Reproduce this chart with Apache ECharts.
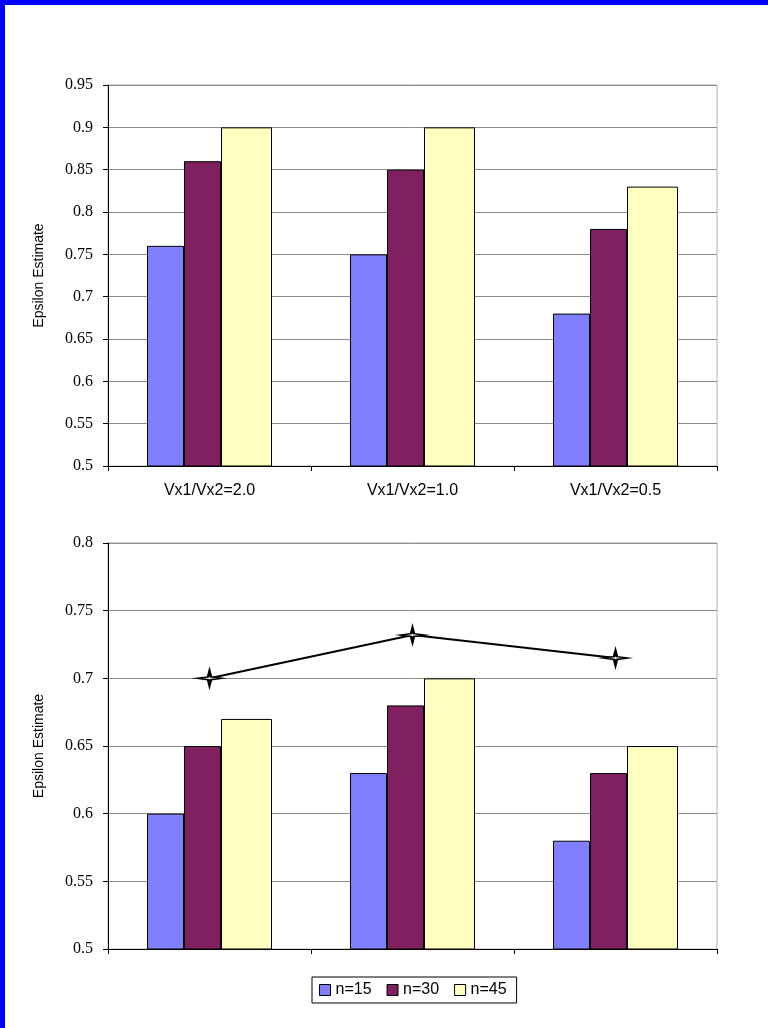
<!DOCTYPE html>
<html>
<head>
<meta charset="utf-8">
<title>Epsilon Estimate</title>
<script src="https://cdn.jsdelivr.net/npm/echarts@6/dist/echarts.min.js"></script>
<style>
  html, body { margin: 0; padding: 0; background: #ffffff; }
  #chart { position: absolute; left: 0; top: 0; width: 768px; height: 1028px; }
  .edge { position: absolute; background: #0000ff; }
</style>
</head>
<body>
<div id="chart"></div>
<div class="edge" style="left:0;top:0;width:5px;height:1028px;"></div>
<div class="edge" style="left:0;top:0;width:768px;height:5px;"></div>
<script>
// Ratio groups along the category axis
const categories = ['Vx1/Vx2=2.0', 'Vx1/Vx2=1.0', 'Vx1/Vx2=0.5'];
const seriesNames = ['n=15', 'n=30', 'n=45'];

// Upper panel: epsilon estimates per sample size
const topN15 = [0.76, 0.75, 0.68];
const topN30 = [0.86, 0.85, 0.78];
const topN45 = [0.90, 0.90, 0.83];

// Lower panel: epsilon estimates per sample size, plus the overlay line
const botN15 = [0.60, 0.63, 0.58];
const botN30 = [0.65, 0.68, 0.63];
const botN45 = [0.67, 0.70, 0.65];
const botLine = [0.700, 0.732, 0.715];

const colors = ['#8080ff', '#802060', '#ffffc0'];
const barWidths = [37, 37, 51];

const sans = '"Liberation Sans", Arial, sans-serif';
const serif = '"Liberation Serif", "Times New Roman", serif';

function yAxis(gridIndex, min, max) {
  return {
    type: 'value', gridIndex, min, max, interval: 0.05,
    name: 'Epsilon Estimate', nameLocation: 'middle', nameGap: 62,
    nameTextStyle: { fontFamily: sans, fontSize: 14, color: '#000' },
    axisLine: { show: true, lineStyle: { color: '#000', width: 1 } },
    axisTick: { show: true, length: 5, lineStyle: { color: '#000' } },
    axisLabel: {
      margin: 15, color: '#000', fontFamily: serif, fontSize: 16,
      formatter: v => String(parseFloat(v.toFixed(2)))
    },
    splitLine: { show: true, lineStyle: { color: '#8c8c8c', width: 1 } }
  };
}

function xAxis(gridIndex, showLabels) {
  return {
    type: 'category', gridIndex, data: categories,
    axisLine: { show: true, lineStyle: { color: '#000', width: 1 } },
    axisTick: { show: true, length: 5, inside: false, lineStyle: { color: '#000' } },
    axisLabel: { show: showLabels, margin: 17, color: '#000', fontFamily: sans, fontSize: 16 },
    splitLine: { show: false }
  };
}

function bars(idx, values, name) {
  return {
    type: 'bar', name, xAxisIndex: idx, yAxisIndex: idx, data: values,
    barWidth: barWidths[seriesNames.indexOf(name)], barGap: '0%',
    itemStyle: { color: colors[seriesNames.indexOf(name)], borderColor: '#000', borderWidth: 1 },
    emphasis: { disabled: true }
  };
}

const chart = echarts.init(document.getElementById('chart'), null, { renderer: 'canvas' });
chart.setOption({
  animation: false,
  backgroundColor: '#ffffff',
  grid: [
    { left: 108, top: 85, width: 609, height: 381, show: true, borderColor: '#b0b0b0', borderWidth: 1, backgroundColor: 'transparent' },
    { left: 108, top: 543, width: 609, height: 406, show: true, borderColor: '#b0b0b0', borderWidth: 1, backgroundColor: 'transparent' }
  ],
  xAxis: [xAxis(0, true), xAxis(1, false)],
  yAxis: [yAxis(0, 0.5, 0.95), yAxis(1, 0.5, 0.8)],
  legend: {
    data: seriesNames, left: 312, top: 977,
    orient: 'horizontal', icon: 'rect', itemWidth: 11, itemHeight: 11, itemGap: 15,
    padding: [5, 10, 5, 7], borderColor: '#000', borderWidth: 1,
    textStyle: { fontFamily: sans, fontSize: 16, color: '#000' },
    itemStyle: { borderColor: '#000', borderWidth: 1 },
    selectedMode: false
  },
  series: [
    bars(0, topN15, 'n=15'),
    bars(0, topN30, 'n=30'),
    bars(0, topN45, 'n=45'),
    bars(1, botN15, 'n=15'),
    bars(1, botN30, 'n=30'),
    bars(1, botN45, 'n=45'),
    {
      type: 'line', name: 'overall', xAxisIndex: 1, yAxisIndex: 1, data: botLine,
      symbol: 'path://M0,-7 L1.6,-1.4 L13,0 L1.6,1.4 L0,7 L-1.6,1.4 L-13,0 L-1.6,-1.4 Z',
      symbolSize: [24, 14], showSymbol: true,
      lineStyle: { color: '#000', width: 2 },
      itemStyle: { color: '#ffffff', borderColor: '#000', borderWidth: 2 },
      z: 5, emphasis: { disabled: true }
    }
  ]
});
</script>
</body>
</html>
